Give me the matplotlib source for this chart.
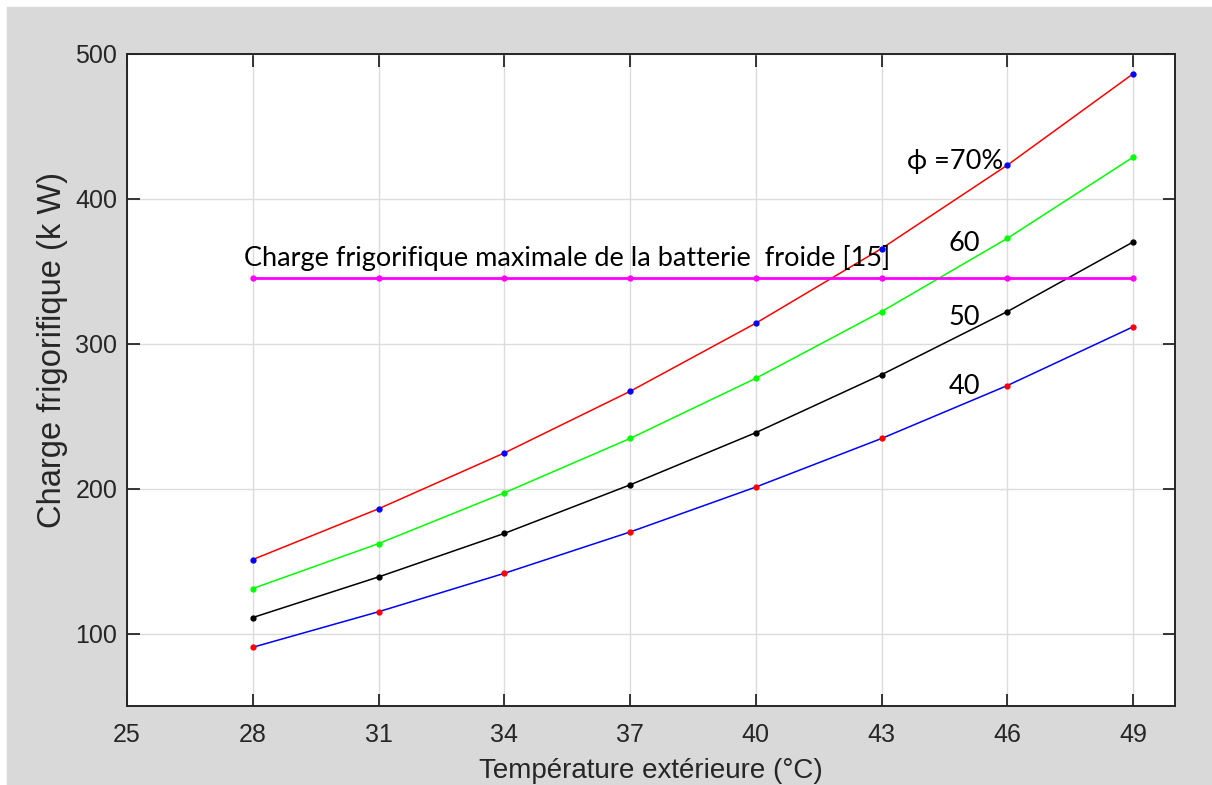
import numpy as np
import matplotlib.pyplot as plt
from matplotlib.patches import Rectangle

# temperatures (°C) and cooling loads (kW)
temp = [28, 31, 34, 37, 40, 43, 46, 49]
phi70 = [151, 186, 224.5, 267, 314, 365.5, 423, 486]
phi60 = [131, 162, 197, 234.5, 276, 322, 372.5, 428.5]
phi50 = [111, 139, 169, 202.5, 238.5, 278.5, 322, 370]
phi40 = [90.5, 115, 141.5, 170, 201, 234.5, 271, 311.5]
cmax = [345, 345, 345, 345, 345, 345, 345, 345]

xticks = [25, 28, 31, 34, 37, 40, 43, 46, 49]
yticks = [100, 200, 300, 400, 500]

W, H = 1212, 785
fig = plt.figure(figsize=(W / 100, H / 100), dpi=100, facecolor='white')
# grey MATLAB figure background, with a thin white strip top and left
fig.patches.append(Rectangle((7 / W, 0), 1 - 7 / W, 1 - 7 / H,
                             transform=fig.transFigure, color='#d9d9d9', zorder=-10))

ax = fig.add_axes([127 / W, 1 - 706 / H, (1175 - 127) / W, (706 - 53.5) / H])
ax.set_facecolor('white')

ax.plot(temp, phi70, color='#ff0000', lw=1.1, zorder=3)
ax.plot(temp, phi70, 'o', color='#0000ff', ms=3.5, zorder=4)
ax.plot(temp, phi60, color='#00ff00', lw=1.1, marker='o', ms=3.5, zorder=3)
ax.plot(temp, phi50, color='black', lw=1.1, marker='o', ms=3.5, zorder=3)
ax.plot(temp, phi40, color='#0000ff', lw=1.1, zorder=3)
ax.plot(temp, phi40, 'o', color='#ff0000', ms=3.5, zorder=4)
ax.plot(temp, cmax, color='#ff00ff', lw=2.0, marker='o', ms=3.5, zorder=3)

ax.set_xlim(25, 50)
ax.set_ylim(50, 500)
ax.set_xticks(xticks)
ax.set_yticks(yticks)
ax.grid(True, color='#dcdcdc', lw=1.0)
ax.set_axisbelow(True)

ax.tick_params(direction='in', length=9, width=1.3, top=True, right=True,
               colors='#262626')
ax.tick_params(axis='x', pad=12)
ax.tick_params(axis='y', pad=7)
for lab in ax.get_xticklabels() + ax.get_yticklabels():
    lab.set_fontfamily('Liberation Sans')
    lab.set_fontsize(18)
for s in ax.spines.values():
    s.set_color('#262626')
    s.set_linewidth(1.4)

ax.set_xlabel('Température extérieure (°C)', family='Liberation Sans', fontsize=20,
              color='#262626')
ax.set_ylabel('Charge frigorifique (k W)', family='Liberation Sans', fontsize=23.5,
              color='#262626')
ax.xaxis.set_label_coords(0.5, -0.080)
ax.yaxis.set_label_coords(-0.056, 0.546)

note_font = ['Lato', 'DejaVu Sans']
ax.text(27.8, 359, 'Charge frigorifique maximale de la batterie  froide [15]',
        family=note_font, fontsize=19.5, va='center', ha='left')
ax.text(43.6, 425.5, 'ϕ =70%', family=note_font, fontsize=19.5, va='center', ha='left')
ax.text(44.6, 369, '60', family=note_font, fontsize=19.5, va='center', ha='left')
ax.text(44.6, 318, '50', family=note_font, fontsize=19.5, va='center', ha='left')
ax.text(44.6, 270.5, '40', family=note_font, fontsize=19.5, va='center', ha='left')

fig.savefig('out.png', dpi=100, facecolor=fig.get_facecolor())
